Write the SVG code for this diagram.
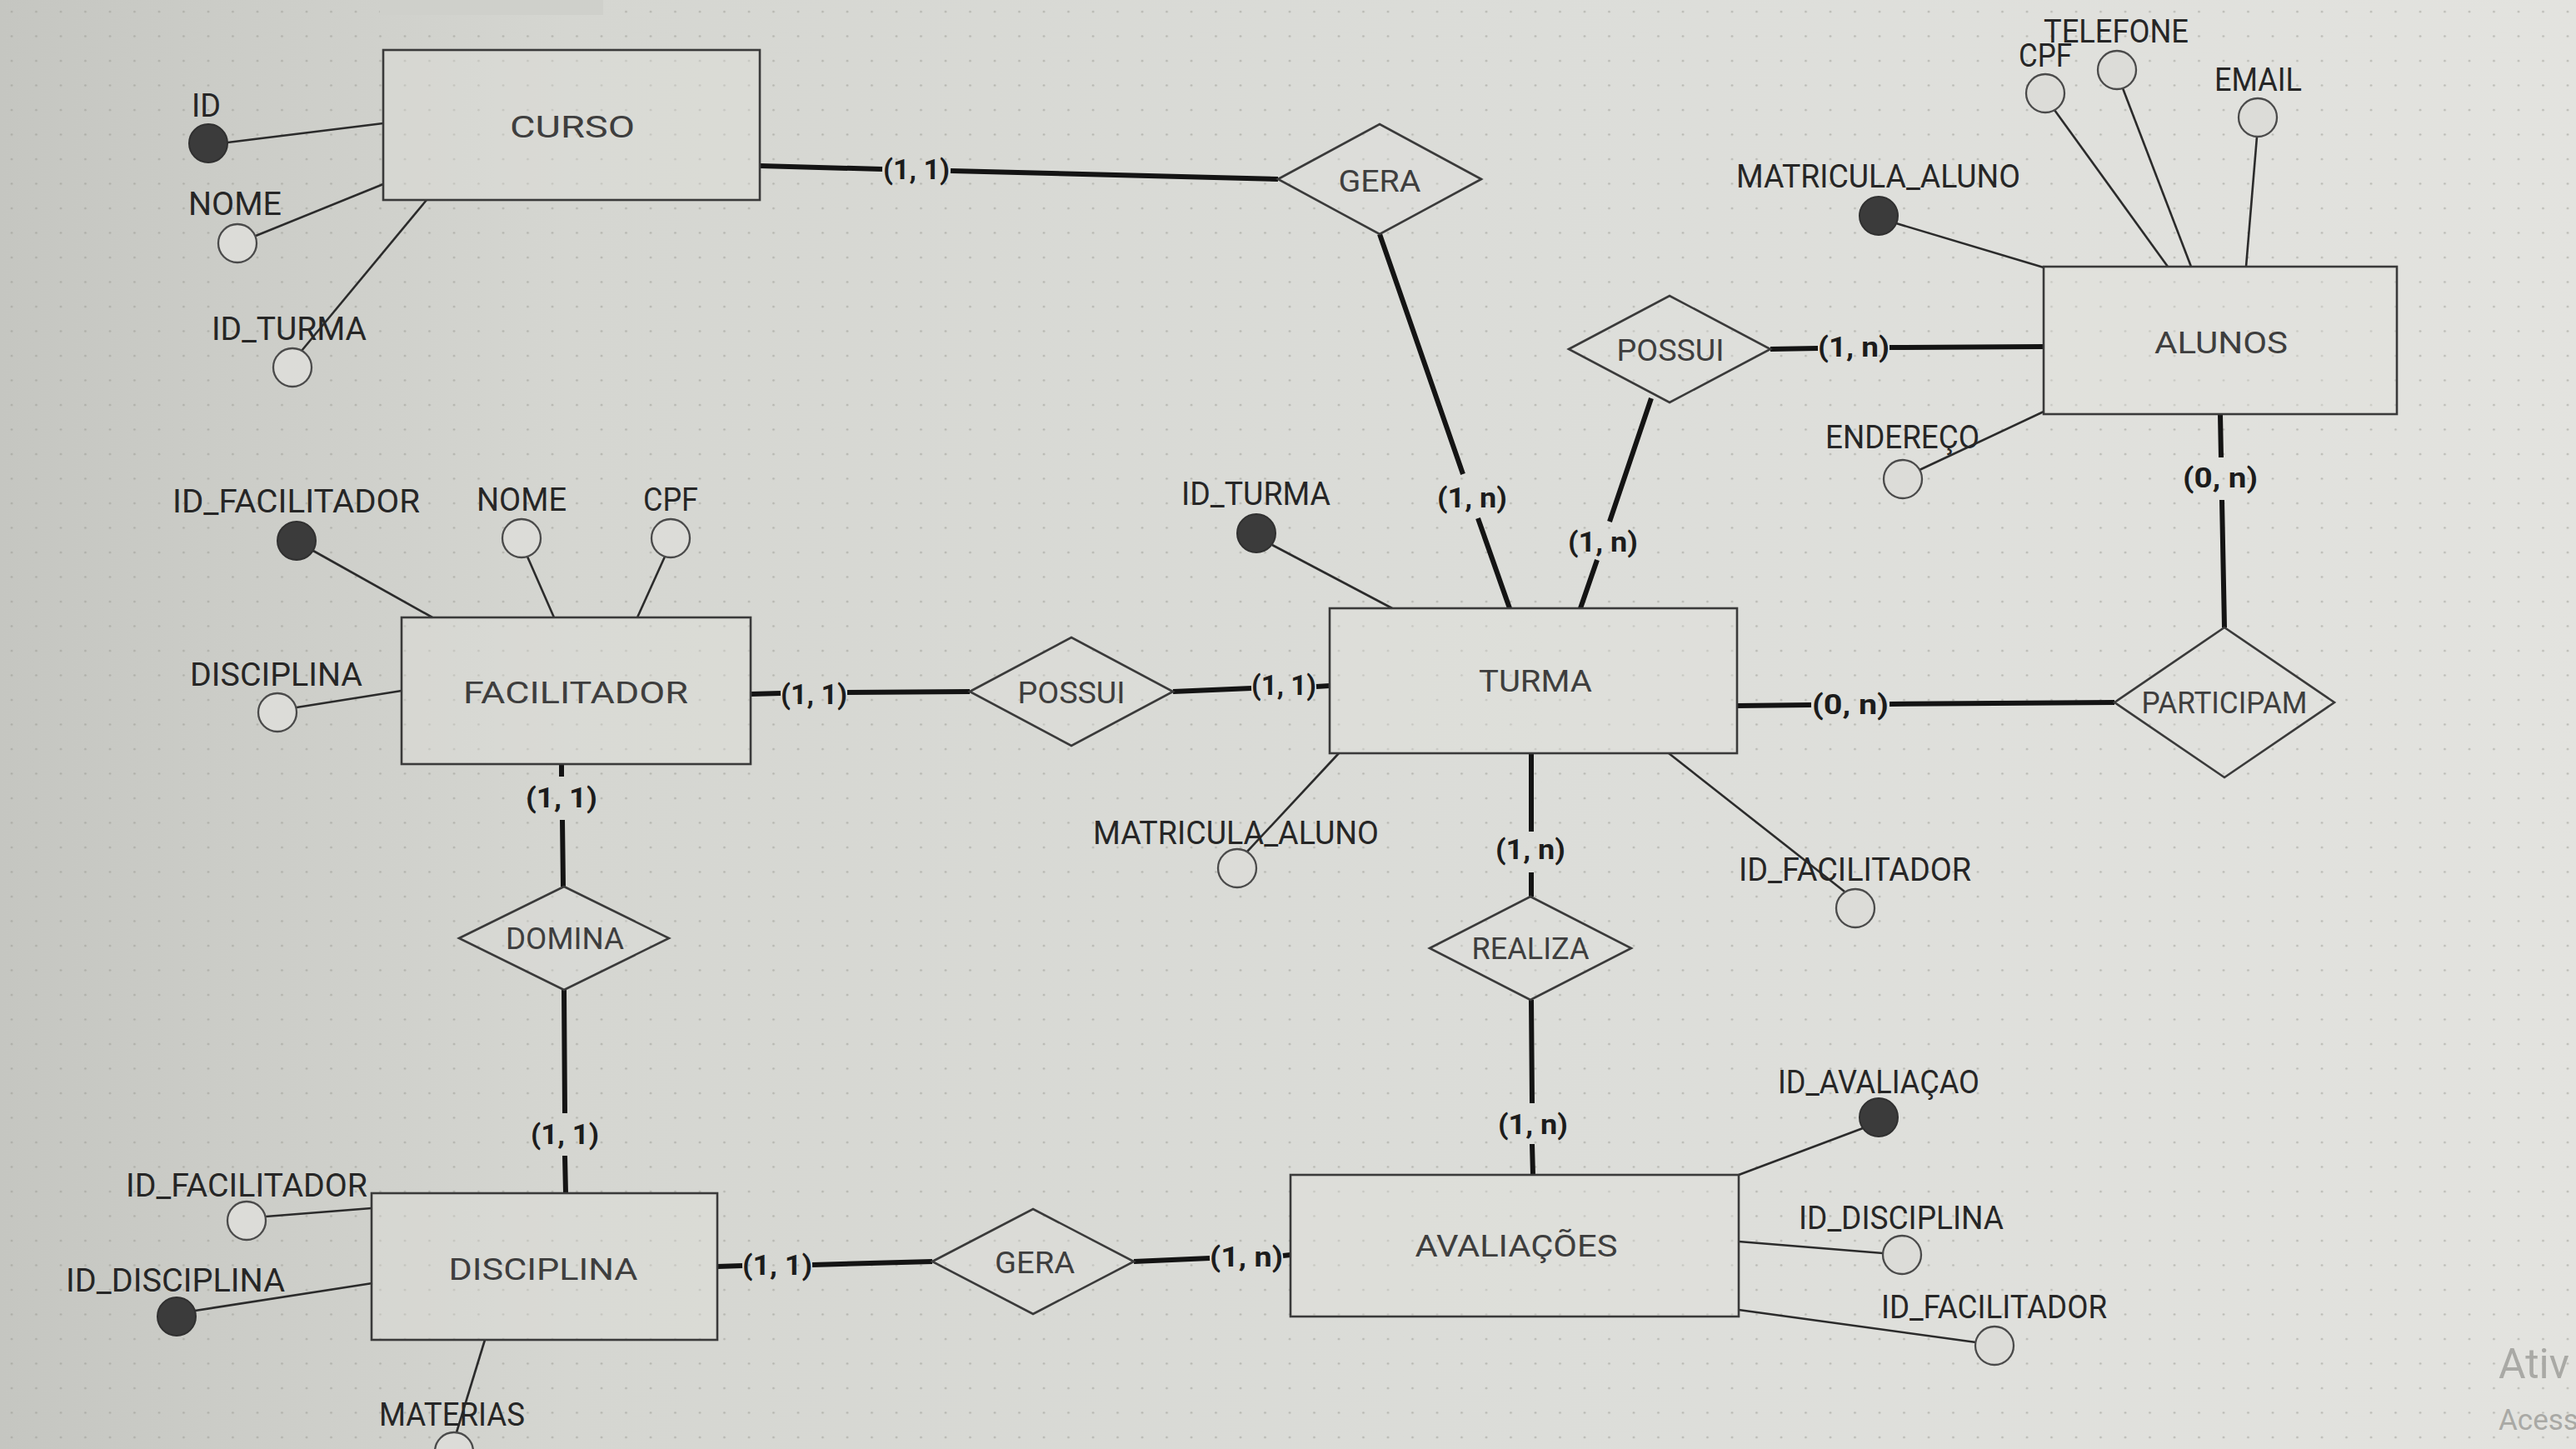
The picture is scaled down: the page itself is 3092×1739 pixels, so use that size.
<svg xmlns="http://www.w3.org/2000/svg" width="3092" height="1739" viewBox="0 0 3092 1739">
<defs>
<linearGradient id="bg" x1="0" y1="0" x2="1" y2="0">
<stop offset="0" stop-color="#c5c6c1"/>
<stop offset="0.22" stop-color="#d5d6d1"/>
<stop offset="0.6" stop-color="#dcddd9"/>
<stop offset="1" stop-color="#e3e3df"/>
</linearGradient>
<pattern id="dots" width="29.5" height="29.5" patternUnits="userSpaceOnUse">
<circle cx="14" cy="14" r="1.3" fill="#96968f" fill-opacity="0.55"/>
</pattern>
<style>
.ent{fill:#e2e2de;fill-opacity:.35;stroke:#3a3a3a;stroke-width:2.6}
.rel{fill:#e2e2de;fill-opacity:.3;stroke:#3a3a3a;stroke-width:2.6}
.t{font-family:Roboto,"Liberation Sans",sans-serif;fill:#3e3e3e;font-size:37px;text-anchor:middle}
.a{font-family:Roboto,"Liberation Sans",sans-serif;fill:#262626;font-size:38px}
.c{font-family:Roboto,"Liberation Sans",sans-serif;fill:#1c1c1c;font-size:34px;font-weight:bold;text-anchor:middle}
.k{stroke:#141414;stroke-width:6;fill:none}
.l{stroke:#2b2b2b;stroke-width:2.6;fill:none}
.ao{fill:#dcdcd8;stroke:#4a4a4a;stroke-width:2.3}
.ak{fill:#3b3b3b;stroke:#303030;stroke-width:2}
.wm{font-family:Roboto,"Liberation Sans",sans-serif;fill:#a9a9a5}
</style>
</defs>
<rect width="3092" height="1739" fill="url(#bg)"/>
<rect width="3092" height="1739" fill="url(#dots)"/>
<rect x="456" y="0" width="268" height="18" fill="#cfd0cb"/>

<g id="connectors">
<!-- relationship lines -->
<path class="k" d="M912,199 L1059,203 M1141,205 L1534,215"/>
<path class="k" d="M1656,281 L1756,569 M1774,622 L1812,730"/>
<path class="k" d="M2125,419 L2182,418 M2268,417 L2453,416"/>
<path class="k" d="M1982,478 L1932,626 M1917,672 L1897,730"/>
<path class="k" d="M901,833 L937,832 M1017,831 L1164,830"/>
<path class="k" d="M1408,830 L1502,826 M1580,824 L1596,823"/>
<path class="k" d="M2085,847 L2174,846 M2268,845 L2538,843"/>
<path class="k" d="M2665,497 L2666,549 M2667,600 L2670,753"/>
<path class="k" d="M1838,904 L1838,998 M1838,1047 L1838,1076"/>
<path class="k" d="M1838,1200 L1839,1324 M1839,1373 L1840,1410"/>
<path class="k" d="M674,917 L674,932 M675,984 L676,1064"/>
<path class="k" d="M677,1188 L678,1336 M678,1387 L679,1432"/>
<path class="k" d="M861,1520 L891,1519 M975,1518 L1119,1514"/>
<path class="k" d="M1361,1514 L1452,1510 M1540,1507 L1549,1506"/>
<!-- attribute lines -->
<line class="l" x1="273" y1="171" x2="460" y2="148"/>
<line class="l" x1="307" y1="283" x2="460" y2="221"/>
<line class="l" x1="362" y1="421" x2="512" y2="240"/>
<line class="l" x1="2276" y1="268" x2="2453" y2="321"/>
<line class="l" x1="2466" y1="132" x2="2602" y2="320"/>
<line class="l" x1="2548" y1="106" x2="2630" y2="320"/>
<line class="l" x1="2709" y1="164" x2="2696" y2="320"/>
<line class="l" x1="2304" y1="564" x2="2453" y2="494"/>
<line class="l" x1="376" y1="661" x2="519" y2="741"/>
<line class="l" x1="633" y1="668" x2="665" y2="741"/>
<line class="l" x1="798" y1="668" x2="765" y2="741"/>
<line class="l" x1="356" y1="849" x2="482" y2="829"/>
<line class="l" x1="1527" y1="654" x2="1671" y2="730"/>
<line class="l" x1="1497" y1="1022" x2="1607" y2="904"/>
<line class="l" x1="2214" y1="1070" x2="2003" y2="904"/>
<line class="l" x1="319" y1="1460" x2="446" y2="1450"/>
<line class="l" x1="234" y1="1573" x2="447" y2="1540"/>
<line class="l" x1="548" y1="1719" x2="582" y2="1608"/>
<line class="l" x1="2236" y1="1354" x2="2087" y2="1410"/>
<line class="l" x1="2260" y1="1504" x2="2087" y2="1490"/>
<line class="l" x1="2372" y1="1611" x2="2087" y2="1572"/>
</g>

<g id="cardinalities">
<text class="c" x="1100" y="215" textLength="80" lengthAdjust="spacingAndGlyphs">(1, 1)</text>
<text class="c" x="1767" y="609" textLength="84" lengthAdjust="spacingAndGlyphs">(1, n)</text>
<text class="c" x="2225" y="428" textLength="86" lengthAdjust="spacingAndGlyphs">(1, n)</text>
<text class="c" x="1924" y="662" textLength="84" lengthAdjust="spacingAndGlyphs">(1, n)</text>
<text class="c" x="977" y="845" textLength="80" lengthAdjust="spacingAndGlyphs">(1, 1)</text>
<text class="c" x="1541" y="834" textLength="78" lengthAdjust="spacingAndGlyphs">(1, 1)</text>
<text class="c" x="2221" y="857" textLength="92" lengthAdjust="spacingAndGlyphs">(0, n)</text>
<text class="c" x="2665" y="585" textLength="90" lengthAdjust="spacingAndGlyphs">(0, n)</text>
<text class="c" x="1837" y="1031" textLength="84" lengthAdjust="spacingAndGlyphs">(1, n)</text>
<text class="c" x="1840" y="1361" textLength="84" lengthAdjust="spacingAndGlyphs">(1, n)</text>
<text class="c" x="674" y="969" textLength="86" lengthAdjust="spacingAndGlyphs">(1, 1)</text>
<text class="c" x="678" y="1373" textLength="82" lengthAdjust="spacingAndGlyphs">(1, 1)</text>
<text class="c" x="933" y="1530" textLength="84" lengthAdjust="spacingAndGlyphs">(1, 1)</text>
<text class="c" x="1496" y="1520" textLength="88" lengthAdjust="spacingAndGlyphs">(1, n)</text>
</g>

<!-- entities -->
<g id="curso"><rect class="ent" x="460" y="60" width="452" height="180"/><text class="t" x="687" y="165" textLength="150" lengthAdjust="spacingAndGlyphs">CURSO</text></g>
<g id="alunos"><rect class="ent" x="2453" y="320" width="424" height="177"/><text class="t" x="2666" y="424" textLength="160" lengthAdjust="spacingAndGlyphs">ALUNOS</text></g>
<g id="facilitador"><rect class="ent" x="482" y="741" width="419" height="176"/><text class="t" x="691" y="844" textLength="270" lengthAdjust="spacingAndGlyphs">FACILITADOR</text></g>
<g id="turma"><rect class="ent" x="1596" y="730" width="489" height="174"/><text class="t" x="1843" y="830" textLength="136" lengthAdjust="spacingAndGlyphs">TURMA</text></g>
<g id="disciplina"><rect class="ent" x="446" y="1432" width="415" height="176"/><text class="t" x="652" y="1536" textLength="227" lengthAdjust="spacingAndGlyphs">DISCIPLINA</text></g>
<g id="avaliacoes"><rect class="ent" x="1549" y="1410" width="538" height="170"/><text class="t" x="1820" y="1508" textLength="243" lengthAdjust="spacingAndGlyphs">AVALIAÇÕES</text></g>

<!-- relationships -->
<g id="rel-gera-curso"><polygon class="rel" points="1534,215 1656,149 1778,215 1656,281"/><text class="t" x="1656" y="230" textLength="99" lengthAdjust="spacingAndGlyphs">GERA</text></g>
<g id="rel-possui-alunos"><polygon class="rel" points="1883,419 2004,355 2125,419 2004,483"/><text class="t" x="2005" y="433" textLength="129" lengthAdjust="spacingAndGlyphs">POSSUI</text></g>
<g id="rel-possui-facilitador"><polygon class="rel" points="1164,830 1286,765 1408,830 1286,895"/><text class="t" x="1286" y="844" textLength="129" lengthAdjust="spacingAndGlyphs">POSSUI</text></g>
<g id="rel-participam"><polygon class="rel" points="2538,843 2670,753 2802,843 2670,933"/><text class="t" x="2670" y="856" textLength="199" lengthAdjust="spacingAndGlyphs">PARTICIPAM</text></g>
<g id="rel-domina"><polygon class="rel" points="551,1126 677,1064 803,1126 677,1188"/><text class="t" x="678" y="1139" textLength="142" lengthAdjust="spacingAndGlyphs">DOMINA</text></g>
<g id="rel-realiza"><polygon class="rel" points="1716,1138 1837,1076 1958,1138 1837,1200"/><text class="t" x="1837" y="1151" textLength="141" lengthAdjust="spacingAndGlyphs">REALIZA</text></g>
<g id="rel-gera-avaliacoes"><polygon class="rel" points="1119,1514 1240,1451 1361,1514 1240,1577"/><text class="t" x="1242" y="1528" textLength="96" lengthAdjust="spacingAndGlyphs">GERA</text></g>

<!-- attributes: CURSO -->
<g id="att-curso-id"><circle class="ak" cx="250" cy="172" r="23"/><text class="a" x="230" y="140" textLength="35" lengthAdjust="spacingAndGlyphs">ID</text></g>
<g id="att-curso-nome"><circle class="ao" cx="285" cy="292" r="23"/><text class="a" x="226" y="258" textLength="112" lengthAdjust="spacingAndGlyphs">NOME</text></g>
<g id="att-curso-idturma"><circle class="ao" cx="351" cy="441" r="23"/><text class="a" x="254" y="408" textLength="186" lengthAdjust="spacingAndGlyphs">ID_TURMA</text></g>
<!-- ALUNOS -->
<g id="att-alunos-matricula"><circle class="ak" cx="2255" cy="259" r="23"/><text class="a" x="2084" y="225" textLength="341" lengthAdjust="spacingAndGlyphs">MATRICULA_ALUNO</text></g>
<g id="att-alunos-cpf"><circle class="ao" cx="2455" cy="112" r="23"/><text class="a" x="2423" y="80" textLength="64" lengthAdjust="spacingAndGlyphs">CPF</text></g>
<g id="att-alunos-telefone"><circle class="ao" cx="2541" cy="84" r="23"/><text class="a" x="2453" y="51" textLength="174" lengthAdjust="spacingAndGlyphs">TELEFONE</text></g>
<g id="att-alunos-email"><circle class="ao" cx="2710" cy="141" r="23"/><text class="a" x="2658" y="109" textLength="105" lengthAdjust="spacingAndGlyphs">EMAIL</text></g>
<g id="att-alunos-endereco"><circle class="ao" cx="2284" cy="575" r="23"/><text class="a" x="2191" y="538" textLength="185" lengthAdjust="spacingAndGlyphs">ENDEREÇO</text></g>
<!-- FACILITADOR -->
<g id="att-facil-id"><circle class="ak" cx="356" cy="649" r="23"/><text class="a" x="207" y="615" textLength="297" lengthAdjust="spacingAndGlyphs">ID_FACILITADOR</text></g>
<g id="att-facil-nome"><circle class="ao" cx="626" cy="646" r="23"/><text class="a" x="572" y="613" textLength="108" lengthAdjust="spacingAndGlyphs">NOME</text></g>
<g id="att-facil-cpf"><circle class="ao" cx="805" cy="646" r="23"/><text class="a" x="772" y="613" textLength="66" lengthAdjust="spacingAndGlyphs">CPF</text></g>
<g id="att-facil-disciplina"><circle class="ao" cx="333" cy="855" r="23"/><text class="a" x="228" y="823" textLength="207" lengthAdjust="spacingAndGlyphs">DISCIPLINA</text></g>
<!-- TURMA -->
<g id="att-turma-id"><circle class="ak" cx="1508" cy="640" r="23"/><text class="a" x="1418" y="606" textLength="179" lengthAdjust="spacingAndGlyphs">ID_TURMA</text></g>
<g id="att-turma-matricula"><circle class="ao" cx="1485" cy="1042" r="23"/><text class="a" x="1312" y="1013" textLength="343" lengthAdjust="spacingAndGlyphs">MATRICULA_ALUNO</text></g>
<g id="att-turma-idfacil"><circle class="ao" cx="2227" cy="1090" r="23"/><text class="a" x="2087" y="1057" textLength="279" lengthAdjust="spacingAndGlyphs">ID_FACILITADOR</text></g>
<!-- DISCIPLINA -->
<g id="att-disc-idfacil"><circle class="ao" cx="296" cy="1465" r="23"/><text class="a" x="151" y="1436" textLength="290" lengthAdjust="spacingAndGlyphs">ID_FACILITADOR</text></g>
<g id="att-disc-id"><circle class="ak" cx="212" cy="1580" r="23"/><text class="a" x="79" y="1550" textLength="263" lengthAdjust="spacingAndGlyphs">ID_DISCIPLINA</text></g>
<g id="att-disc-materias"><circle class="ao" cx="545" cy="1742" r="23"/><text class="a" x="455" y="1711" textLength="175" lengthAdjust="spacingAndGlyphs">MATERIAS</text></g>
<!-- AVALIAÇÕES -->
<g id="att-aval-id"><circle class="ak" cx="2255" cy="1341" r="23"/><text class="a" x="2134" y="1312" textLength="242" lengthAdjust="spacingAndGlyphs">ID_AVALIAÇAO</text></g>
<g id="att-aval-iddisc"><circle class="ao" cx="2283" cy="1506" r="23"/><text class="a" x="2159" y="1475" textLength="246" lengthAdjust="spacingAndGlyphs">ID_DISCIPLINA</text></g>
<g id="att-aval-idfacil"><circle class="ao" cx="2394" cy="1615" r="23"/><text class="a" x="2258" y="1582" textLength="271" lengthAdjust="spacingAndGlyphs">ID_FACILITADOR</text></g>

<text class="wm" x="2999" y="1654" font-size="50">Ativ</text>
<text class="wm" x="2999" y="1716" font-size="35">Acess</text>
</svg>
